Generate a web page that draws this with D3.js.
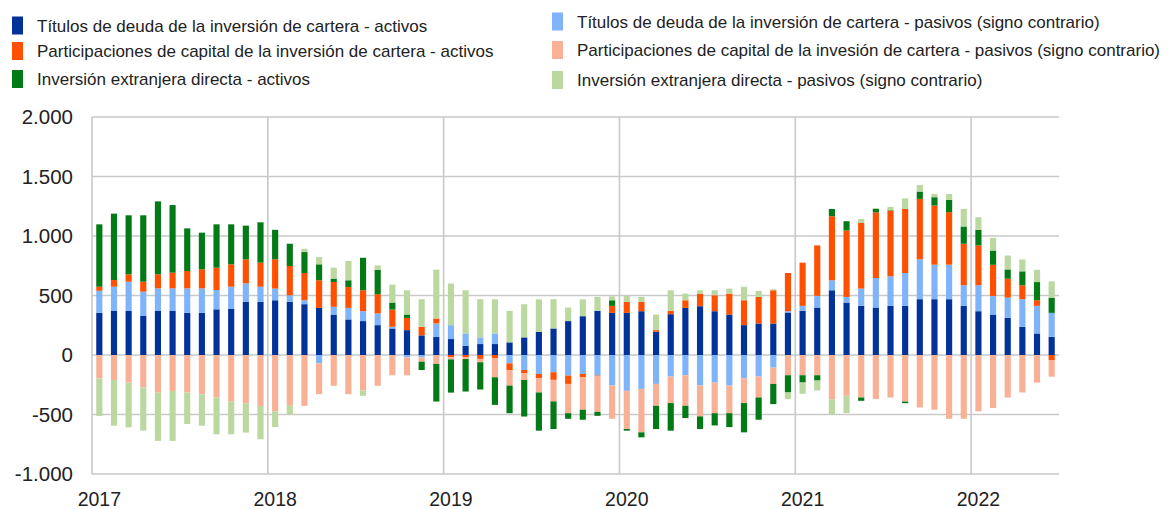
<!DOCTYPE html>
<html>
<head>
<meta charset="utf-8">
<script src="https://cdn.jsdelivr.net/npm/d3@7"></script>
<style>
body { margin: 0; background: #fff; }
text { font-family: "Liberation Sans", Arial, sans-serif; fill: #222; }
</style>
</head>
<body>
<div class="chart"></div>
<script>
// monthly data, Jan 2017 - Jun 2022
var months = d3.timeMonths(new Date(2017, 0, 1), new Date(2022, 6, 1));
var yTicks = [-1000, -500, 0, 500, 1000, 1500, 2000];

var debtAssets = [
    355, 370, 370, 328, 370, 370, 355, 355, 384, 387, 448, 448,
    460, 446, 427, 396, 340, 299, 285, 251, 223, 209, 165, 151,
    134, 78, 92, 92, 106, 148, 195, 223, 285, 326, 371, 354,
    354, 368, 195, 343, 396, 410, 368, 340, 251, 265, 265, 357,
    371, 399, 544, 441, 413, 399, 413, 413, 469, 469, 469, 413,
    368, 340, 312, 237, 181, 153];
var debtLiab = [
    185, 204, 246, 204, 190, 190, 205, 205, 162, 187, 154, 126,
    98, 56, 33, -70, 65, 97, 83, 98, 14, -20, -20, 114,
    117, 103, 56, 89, -70, -126, -159, -145, -173, -159, -173, -257,
    -301, -285, -243, -181, -170, -257, -232, -257, -195, -181, -106, 11,
    42, 98, 84, 47, 145, 248, 248, 276, 335, 290, 290, 173,
    218, 156, 170, 232, 232, 201];
var equityAssets = [
    34, 56, 62, 84, 118, 132, 146, 160, 188, 188, 202, 202,
    246, 246, 229, 232, 209, 176, 176, 162, 145, 103, 72, 42,
    -20, -20, -33, -28, -56, -28, -36, -64, -70, -28, -4, 59,
    92, 78, 14, 28, 64, 106, 134, 176, 209, 223, 279, 321,
    363, 424, 538, 558, 552, 552, 552, 538, 508, 497, 441, 349,
    335, 262, 159, 117, 47, -42];
var equityLiab = [
    -196, -210, -232, -272, -316, -302, -316, -330, -358, -392, -406, -428,
    -474, -427, -427, -259, -259, -329, -299, -259, -170, -151, -36, -75,
    -17, -14, -28, -159, -131, -56, -120, -181, -246, -273, -301, -279,
    -321, -365, -184, -223, -257, -259, -257, -232, -209, -176, -137, -170,
    -170, -170, -371, -343, -357, -371, -357, -391, -441, -460, -536, -536,
    -474, -446, -357, -315, -232, -140];
var fdiAssets = [
    524, 558, 496, 558, 613, 568, 358, 308, 364, 336, 283, 339,
    248, 187, 176, 134, 28, 56, 273, 206, 59, 28, -70, -316,
    -279, -273, -229, -232, -232, -307, -321, -232, -47, -84, -33, 47,
    -14, -42, -195, -232, -103, -106, -103, -117, -246, -187, -170, -145,
    -61, -45, 61, 78, -28, 28, 4, -14, 61, 70, 103, 145,
    131, 120, 78, 117, 153, 128];
var fdiLiab = [
    -316, -384, -376, -364, -406, -420, -264, -264, -308, -274, -246, -280,
    -131, -75, 28, 61, 92, 162, -44, 36, 150, 204, 232, 410,
    349, 363, 321, 287, 265, 279, 273, 246, 114, 142, 117, 33,
    50, 42, 131, 173, 56, 28, 42, 42, 112, 50, 8, -56,
    -95, -84, -131, -145, 33, 8, 28, 89, 56, 28, 50, 148,
    106, 106, 117, 100, 103, 137];

var seriesKeys = [`debtA`, `debtL`, `eqA`, `eqL`, `fdiA`, `fdiL`];
var seriesValues = [debtAssets, debtLiab, equityAssets, equityLiab, fdiAssets, fdiLiab];
var seriesLabels = [
    `Títulos de deuda de la inversión de cartera - activos`,
    `Títulos de deuda de la inversión de cartera - pasivos (signo contrario)`,
    `Participaciones de capital de la inversión de cartera - activos`,
    `Participaciones de capital de la invesión de cartera - pasivos (signo contrario)`,
    `Inversión extranjera directa - activos`,
    `Inversión extranjera directa - pasivos (signo contrario)`
];
var colors = [`#00329a`, `#7fb4fb`, `#ff4f00`, `#f9b195`, `#047a17`, `#bcd8a1`];

var width = 1170, height = 509;
var margin = {top: 117, right: 111, bottom: 35, left: 92};

var svg = d3.select(`.chart`)
    .append(`svg`)
    .attr(`width`, width)
    .attr(`height`, height);

var rows = months.map((m, i) => {
    var r = {month: m};
    seriesKeys.forEach((k, j) => r[k] = seriesValues[j][i]);
    return r;
});

var stack = d3.stack()
    .keys(seriesKeys)
    .offset(d3.stackOffsetDiverging);
var stacked = stack(rows);

var xScale = d3.scaleBand()
    .domain(months)
    .range([margin.left, width - margin.right])
    .paddingInner(0.58)
    .paddingOuter(0.29);

var yScale = d3.scaleLinear()
    .domain([-1000, 2000])
    .range([height - margin.bottom, margin.top]);

var fmt = d3.formatLocale({decimal: `,`, thousands: `.`, grouping: [3], currency: [``, ``], minus: `-`}).format(`,d`);

// grid
var step = xScale.step();
var gap = (step - xScale.bandwidth()) / 2;
var januaries = months.filter(m => m.getMonth() === 0);

svg.append(`g`)
    .selectAll(`line`)
    .data(yTicks)
    .enter()
    .append(`line`)
    .attr(`x1`, margin.left)
    .attr(`x2`, width - margin.right)
    .attr(`y1`, d => yScale(d))
    .attr(`y2`, d => yScale(d))
    .style(`stroke`, `#c9c9c9`)
    .style(`stroke-width`, 1.6);

svg.append(`g`)
    .selectAll(`line`)
    .data(januaries)
    .enter()
    .append(`line`)
    .attr(`x1`, d => xScale(d) - gap)
    .attr(`x2`, d => xScale(d) - gap)
    .attr(`y1`, yScale(2000))
    .attr(`y2`, yScale(-1000))
    .style(`stroke`, `#c9c9c9`)
    .style(`stroke-width`, 1.6);

// bars
svg.append(`g`)
    .selectAll(`g`)
    .data(stacked)
    .enter()
    .append(`g`)
    .style(`fill`, (d, i) => colors[i])
    .selectAll(`rect`)
    .data(d => d)
    .enter()
    .append(`rect`)
    .attr(`x`, d => xScale(d.data.month))
    .attr(`width`, xScale.bandwidth())
    .attr(`y`, d => yScale(Math.max(d[0], d[1])))
    .attr(`height`, d => Math.abs(yScale(d[0]) - yScale(d[1])));

// axes
var yAxis = svg.append(`g`)
    .attr(`transform`, `translate(${margin.left},0)`)
    .call(d3.axisLeft(yScale).tickValues(yTicks).tickFormat(fmt).tickSize(0).tickPadding(19));
yAxis.select(`.domain`).remove();
yAxis.selectAll(`text`)
    .style(`font-size`, `20.5px`)
    .style(`font-family`, `"Liberation Sans", Arial, sans-serif`)
    .style(`fill`, `#222`);

var xAxis = svg.append(`g`)
    .attr(`transform`, `translate(0,${height - margin.bottom})`)
    .call(d3.axisBottom(xScale).tickValues(januaries).tickFormat(d3.timeFormat(`%Y`)).tickSize(0).tickPadding(18));
xAxis.select(`.domain`).remove();
xAxis.selectAll(`text`)
    .style(`font-size`, `19.5px`)
    .style(`font-family`, `"Liberation Sans", Arial, sans-serif`)
    .style(`fill`, `#222`);

// legend: assets left, liabilities right
var legendPos = [
    {x: 12, y: 25.5}, {x: 552, y: 21.5},
    {x: 12, y: 51}, {x: 552, y: 50},
    {x: 12, y: 79}, {x: 552, y: 80}
];
var legend = svg.append(`g`)
    .selectAll(`g`)
    .data(seriesLabels)
    .enter()
    .append(`g`)
    .attr(`transform`, (d, i) => `translate(${legendPos[i].x},${legendPos[i].y})`);
legend.append(`rect`)
    .attr(`x`, 0)
    .attr(`y`, -9)
    .attr(`width`, 11)
    .attr(`height`, 18)
    .style(`fill`, (d, i) => colors[i]);
legend.append(`text`)
    .attr(`x`, 25)
    .attr(`y`, 6.2)
    .style(`font-size`, `17px`)
    .text(d => d);
</script>
</body>
</html>
